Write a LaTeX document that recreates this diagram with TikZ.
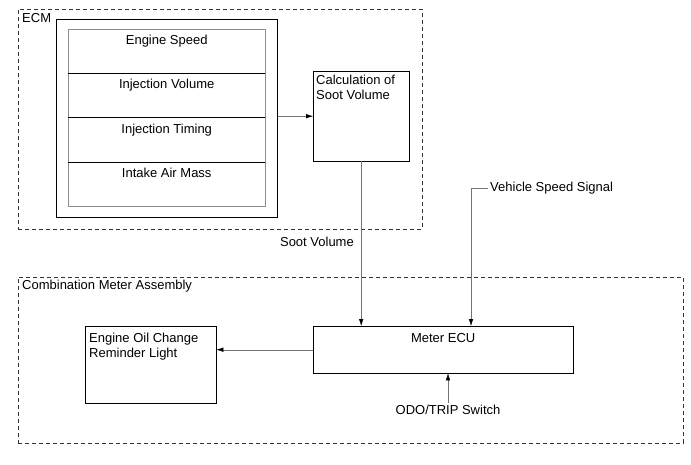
\documentclass[tikz,border=0pt]{standalone}
\usepackage{fontspec}
\setmainfont{Liberation Sans}
\usetikzlibrary{arrows.meta}

\begin{document}
\begin{tikzpicture}[x=1pt, y=-1pt, font=\fontsize{13}{15}\selectfont,
  groupbox/.style={draw=black!80, dash pattern=on 4pt off 3pt, anchor=north west, inner sep=0pt},
  unitbox/.style={draw, anchor=north west, inner sep=0pt},
  txt/.style={inner sep=2pt, align=left},
  sig/.style={draw=black!55, -{Latex[length=7pt,width=4.5pt,black]}}]
  \useasboundingbox (0,0) rectangle (691,465);
  % groups
  \node[groupbox, minimum width=404, minimum height=220] (ecm) at (18,9) {};
  \node[txt, anchor=north west] (ecmtxt) at ([xshift=2,yshift=-2]ecm.north west) {ECM};
  \node[groupbox, minimum width=665, minimum height=166] (cma) at (18,277) {};
  \node[txt, anchor=north west] (cmatxt) at ([xshift=2,yshift=-1]cma.north west) {Combination Meter Assembly};
  % sensors
  \node[unitbox, line width=0.6pt, minimum width=221, minimum height=198] (inputs) at (56,19) {};
  \foreach \n/\t [count=\i from 0] in {r1/Engine Speed, r2/Injection Volume, r3/Injection Timing, r4/Intake Air Mass}
  {
    \node[unitbox, draw=black!45, minimum width=197, minimum height=44.25] (\n) at (68,29+44.25*\i) {};
    \node[txt, anchor=north] (\n txt) at ([yshift=-4]\n.north) {\t};
  }
  \foreach \i in {1,2,3}
    \draw (68,29+44.25*\i) -- (265,29+44.25*\i);
  % blocks
  \node[unitbox, minimum width=96, minimum height=90] (calc) at (313,71) {};
  \node[txt, anchor=north west] (calctxt) at ([xshift=1,yshift=-2]calc.north west) {Calculation of\\Soot Volume};
  \node[unitbox, minimum width=260, minimum height=47] (meter) at (313,326) {};
  \node[txt, anchor=north] (metertxt) at ([yshift=-5]meter.north) {Meter ECU};
  \node[unitbox, minimum width=131, minimum height=77] (oil) at (85,326) {};
  \node[txt, anchor=north west] (oiltxt) at ([xshift=2,yshift=-5]oil.north west) {Engine Oil Change\\Reminder Light};
  % signals
  \node[txt, anchor=east] (soot) at (356,242) {Soot Volume};
  \node[txt, anchor=west] (vss) at (488,188) {Vehicle Speed Signal};
  \node[txt] (odo) at (448,410) {ODO/TRIP Switch};
  \coordinate (vk) at ([xshift=-17]vss.west);
  \draw[sig] (inputs.east |- calc.west) -- (calc.west);
  \draw[sig] (calc.south) -- (calc.south |- meter.north);
  \draw[sig] (vss.west) -- (vk) -- (vk |- meter.north);
  \draw[sig] (meter.west) -- (meter.west -| oil.east);
  \draw[sig] (odo.north) -- (odo.north |- meter.south);
\end{tikzpicture}
\end{document}
